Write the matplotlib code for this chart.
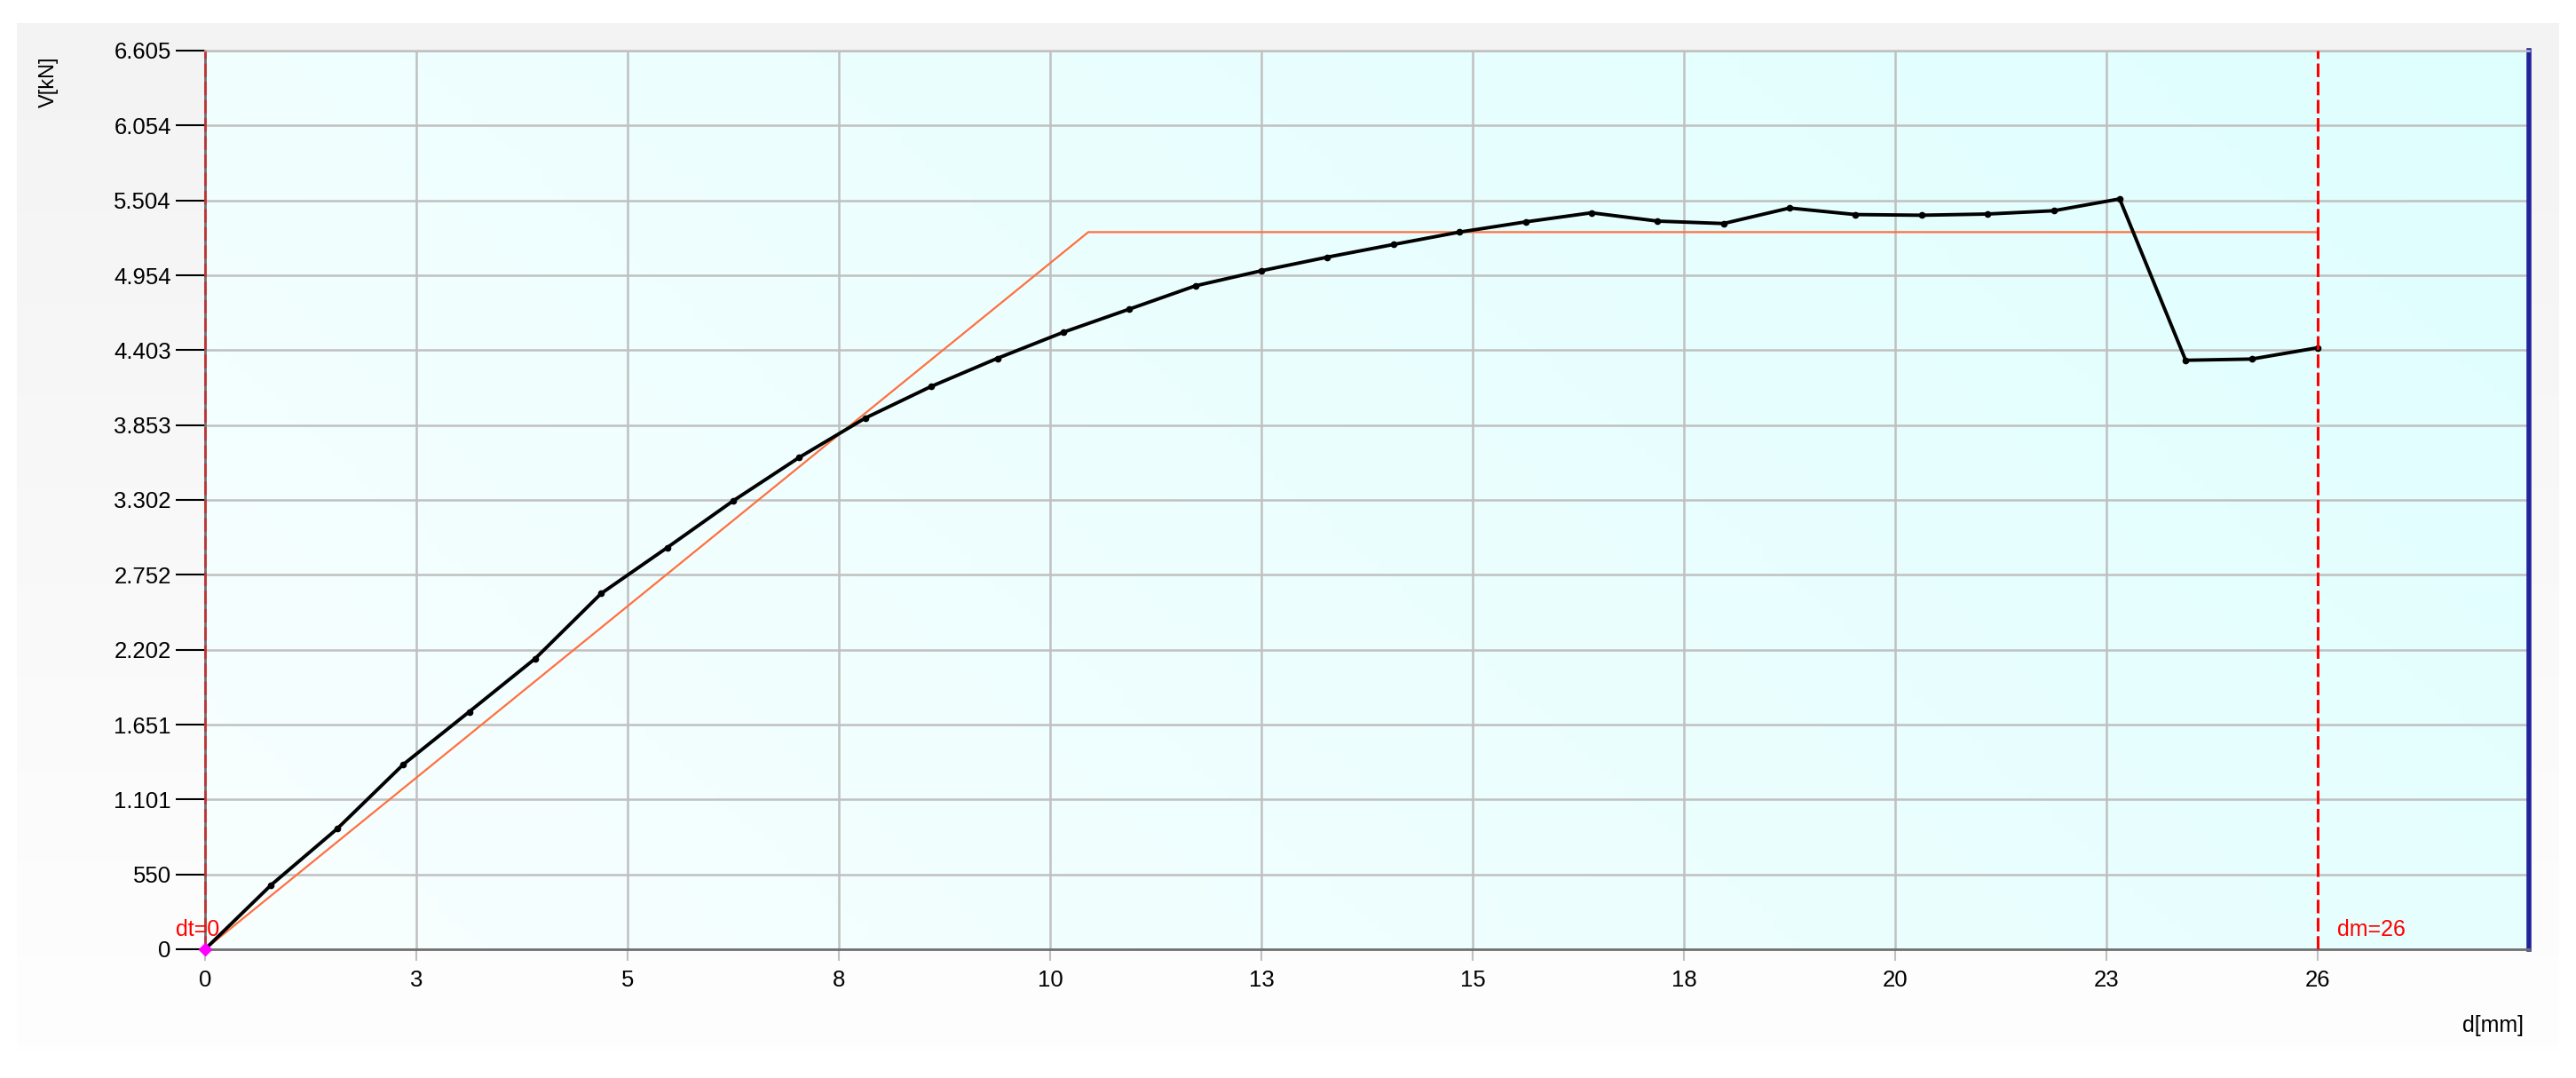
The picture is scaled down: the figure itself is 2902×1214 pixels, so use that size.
import numpy as np
import matplotlib
matplotlib.use("Agg")
import matplotlib.pyplot as plt
from matplotlib.colors import LinearSegmentedColormap

# measured curve: displacement d [mm] vs load V [N]
step = 26 / 32
d_mm = [i * step for i in range(33)]
v_n = [0, 472, 885, 1357, 1745, 2136, 2615, 2952, 3296, 3615, 3904, 4137, 4343, 4535,
       4705, 4876, 4987, 5087, 5180, 5271, 5346, 5413, 5352, 5334, 5448, 5400, 5395,
       5404, 5428, 5515, 4329, 4338, 4421]

# bilinear idealisation
bil_d = [0, 10.87, 26]
bil_v = [0, 5271, 5271]

dt = 0
dm = 26

x_ticks = [2.6 * k for k in range(11)]
x_labels = ['0', '3', '5', '8', '10', '13', '15', '18', '20', '23', '26']
y_ticks = [6605 / 12 * k for k in range(13)]
y_labels = ['0', '550', '1.101', '1.651', '2.202', '2.752', '3.302', '3.853',
            '4.403', '4.954', '5.504', '6.054', '6.605']

W, H = 2902, 1214
plt.rcParams['font.family'] = ['Liberation Sans', 'DejaVu Sans']

fig = plt.figure(figsize=(W / 100, H / 100), dpi=100)

# outer grey panel with a soft vertical fade
panel = fig.add_axes([19 / W, 1 - 1183 / H, (2883 - 19) / W, (1183 - 26) / H])
panel.axis('off')
pcmap = LinearSegmentedColormap.from_list('p', ['#fefefe', '#f3f3f3'])
panel.imshow(np.linspace(0, 1, 256).reshape(-1, 1)[::-1], aspect='auto', cmap=pcmap,
             extent=[0, 1, 0, 1], origin='upper')

ax = fig.add_axes([231 / W, 1 - 1069 / H, (2849 - 231) / W, (1069 - 57) / H])

# plot area gradient (pale azure bottom-left -> light cyan top-right)
gx, gy = np.meshgrid(np.linspace(0, 1, 200), np.linspace(0, 1, 100))
grad = 0.7 * gx + 0.3 * gy
bcmap = LinearSegmentedColormap.from_list('b', ['#f8feff', '#dffefe'])
ax.imshow(grad, extent=[0, 1, 0, 1], transform=ax.transAxes, origin='lower',
          cmap=bcmap, aspect='auto', zorder=0)

ax.set_xlim(0, 28.6)
ax.set_ylim(0, 6605)

# grid
for xv in x_ticks[1:-1]:
    ax.axvline(xv, color='#c0c0c0', lw=1.8, zorder=1)
for yv in y_ticks[1:]:
    ax.axhline(yv, color='#c0c0c0', lw=1.8, zorder=1)

ax.plot(bil_d, bil_v, color='#ff7040', lw=1.6, zorder=3)
ax.plot(d_mm, v_n, color='black', lw=2.8, marker='o', ms=4.5, zorder=4)

ax.axvline(dt, color='red', lw=2.2, dashes=(5, 1.7), alpha=0.5, zorder=5, clip_on=False)
ax.axvline(dm, color='red', lw=2.2, dashes=(5, 1.7), zorder=5)
ax.plot([0], [0], marker='D', color='magenta', ms=7, zorder=6, clip_on=False)

ax.annotate('dt=0', xy=(dt, 0), xytext=(12, 16), textcoords='offset points',
            ha='right', va='center', color='red', fontsize=18, annotation_clip=False)
ax.annotate('dm=26', xy=(dm, 0), xytext=(16, 16), textcoords='offset points',
            ha='left', va='center', color='red', fontsize=18)

ax.set_xticks(x_ticks)
ax.set_xticklabels(x_labels)
ax.set_yticks(y_ticks)
ax.set_yticklabels(y_labels)
ax.tick_params(axis='y', length=24, width=1.5, color='black', pad=3.5, labelsize=18.5)
ax.tick_params(axis='x', length=9.5, width=1.5, color='#c0c0c0', pad=7, labelsize=18.5)

for side in ['left', 'bottom']:
    ax.spines[side].set_color('#707070')
    ax.spines[side].set_linewidth(2)
ax.spines['top'].set_color('#c0c0c0')
ax.spines['top'].set_linewidth(1.8)
ax.spines['right'].set_color('#22229a')
ax.spines['right'].set_linewidth(4)

fig.text(55 / W, 1 - 92 / H, 'V[kN]', rotation=90, ha='center', va='center', fontsize=17)
fig.text(2843 / W, 1 - 1155 / H, 'd[mm]', ha='right', va='center', fontsize=18)

fig.savefig('out.png', dpi=100)
